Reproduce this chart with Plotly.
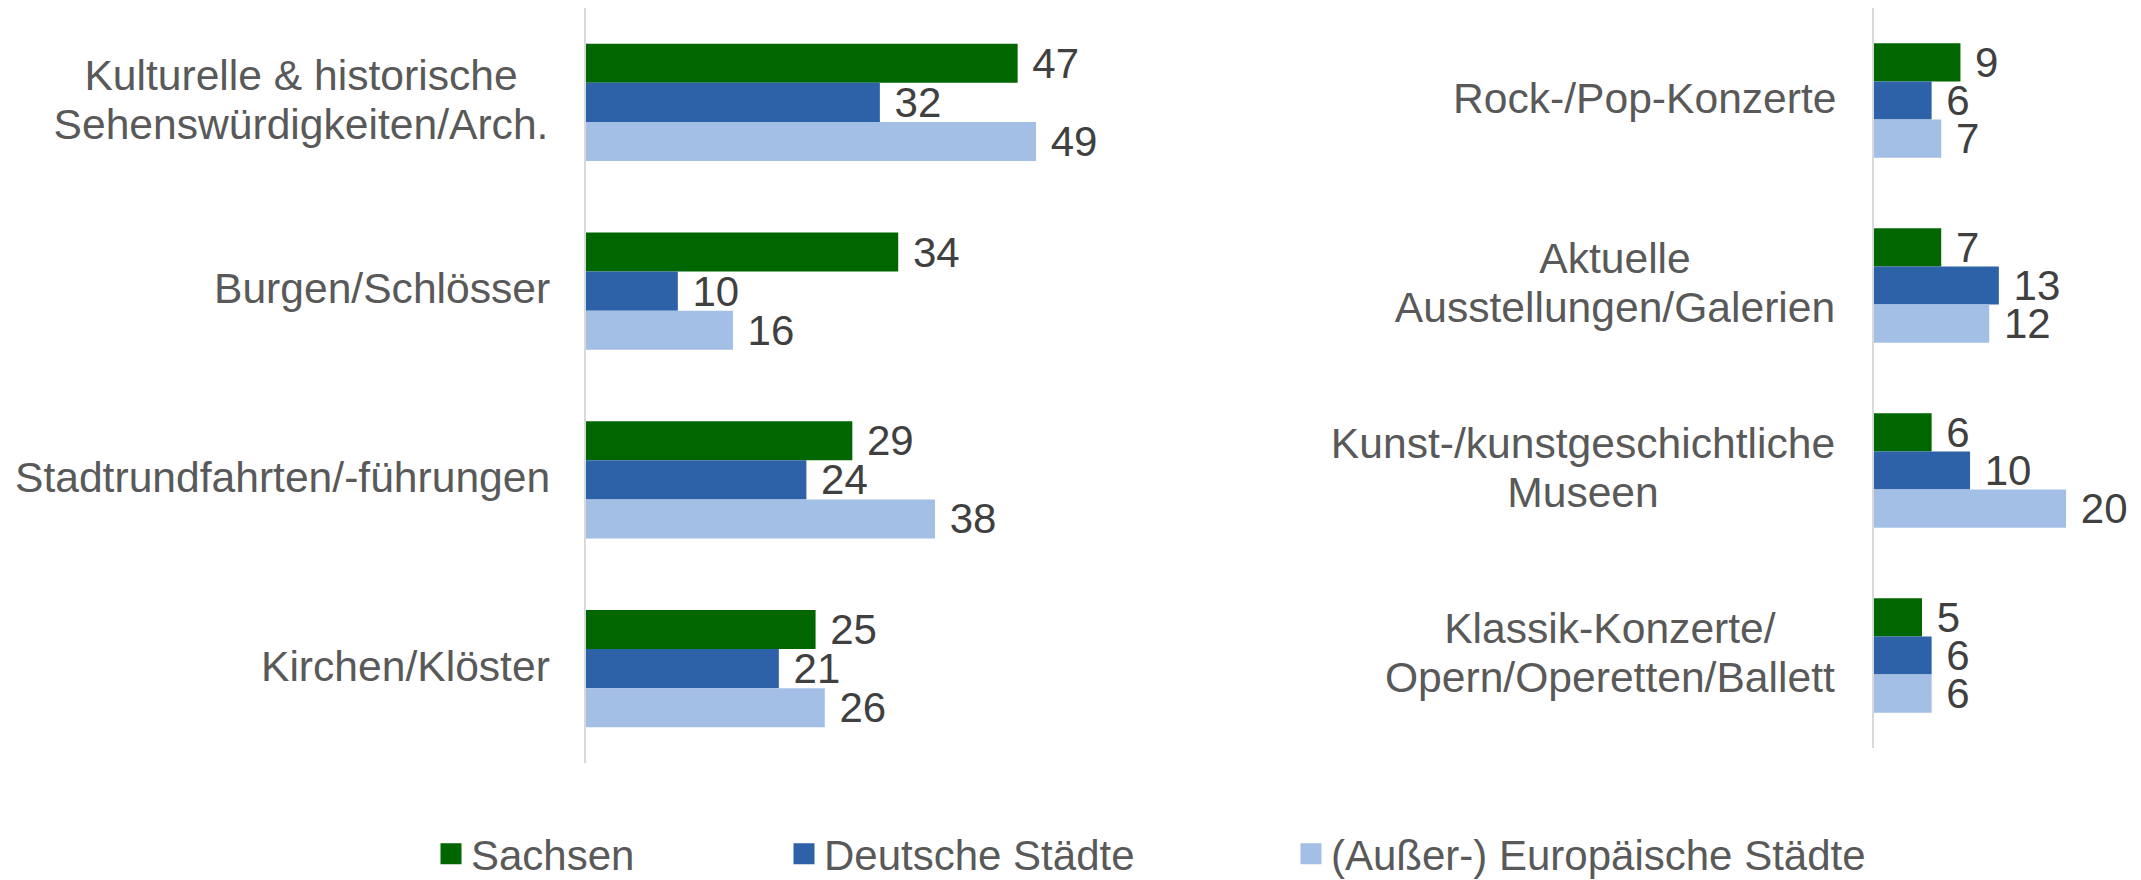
import plotly.graph_objects as go

# ---- data ----
left_categories = [
    "Kulturelle & historische<br>Sehenswürdigkeiten/Arch.",
    "Burgen/Schlösser",
    "Stadtrundfahrten/-führungen",
    "Kirchen/Klöster",
]
left_sachsen = [47, 34, 29, 25]
left_deutsche = [32, 10, 24, 21]
left_europa = [49, 16, 38, 26]

right_categories = [
    "Rock-/Pop-Konzerte",
    "Aktuelle<br>Ausstellungen/Galerien",
    "Kunst-/kunstgeschichtliche<br>Museen",
    "Klassik-Konzerte/<br>Opern/Operetten/Ballett",
]
right_sachsen = [9, 7, 6, 5]
right_deutsche = [6, 13, 10, 6]
right_europa = [7, 12, 20, 6]

series_names = ["Sachsen", "Deutsche Städte", "(Außer-) Europäische Städte"]
series_colors = ["#006600", "#2E62A8", "#A3BFE6"]

# ---- layout constants (page is offset 8px by the default body margin) ----
OFF = 8
W, H = 2141 - OFF, 880 - OFF
FONT = "Liberation Sans, Arial, sans-serif"
LABEL_COLOR = "#595959"
VALUE_COLOR = "#404040"
FS_VAL = 42
FS_CAT = 42.6
FS_LEG = 42
LINE_SP = 48.7  # px between lines of multi-line category labels
LABEL_LIFT = 3  # px
# text-box widths for the multi-line category labels (widest line)
label_box_w = {
    left_categories[0]: 498,
    right_categories[1]: 444,
    right_categories[2]: 508,
    right_categories[3]: 454,
}


def px_x(p):
    return (p - OFF) / W


def px_y(p):
    return 1 - (p - OFF) / H


fig = go.Figure()

left_vals = [left_sachsen, left_deutsche, left_europa]
right_vals = [right_sachsen, right_deutsche, right_europa]

for i, name in enumerate(series_names):
    for cats, vals, xa, ya in [
        (left_categories, left_vals[i], "x", "y"),
        (right_categories, right_vals[i], "x2", "y2"),
    ]:
        fig.add_trace(go.Bar(
            y=cats, x=vals, orientation="h",
            xaxis=xa, yaxis=ya,
            marker=dict(color=series_colors[i], line=dict(width=0)),
            texttemplate="\u00a0%{x}", textposition="outside",
            textfont=dict(family=FONT, size=FS_VAL, color=VALUE_COLOR),
            constraintext="none", cliponaxis=False,
            name=name, legendgroup=name, showlegend=False,
            hovertemplate="%{y}: %{x}<extra>" + name + "</extra>",
        ))

# legend entries (one legend per series, placed like the original)
legend_keys = ["legend", "legend2", "legend3"]
for i, name in enumerate(series_names):
    fig.add_trace(go.Scatter(
        x=[None], y=[None], mode="markers",
        marker=dict(symbol="square", size=16, color=series_colors[i],
                    line=dict(width=5, color=series_colors[i])),
        name=name, legendgroup=name, showlegend=True,
        legend=legend_keys[i], xaxis="x", yaxis="y",
    ))

# category labels: centered lines inside a right-aligned block
for cats, yref, xpage in [(left_categories, "y", 552), (right_categories, "y2", 1839)]:
    for c in cats:
        lines = c.split("<br>")
        n = len(lines)
        for k, line in enumerate(lines):
            kw = {}
            if n > 1:
                kw["width"] = label_box_w[c]
            fig.add_annotation(
                x=px_x(xpage), xref="paper", xanchor="right",
                y=c, yref=yref, yanchor="middle",
                yshift=((n - 1) / 2 - k) * LINE_SP + LABEL_LIFT,
                text=line, showarrow=False, align="center",
                font=dict(family=FONT, size=FS_CAT, color=LABEL_COLOR),
                **kw,
            )

axis_common_x = dict(showticklabels=False, showgrid=False, zeroline=False,
                     showline=False, ticks="", fixedrange=True)
axis_common_y = dict(type="category", autorange="reversed", showticklabels=False,
                     showgrid=False, zeroline=False, ticks="",
                     showline=True, linecolor="#D9D9D9", linewidth=2)

legend_common = dict(orientation="h", yanchor="middle", y=px_y(854),
                     xanchor="left", font=dict(family=FONT, size=FS_LEG, color=LABEL_COLOR),
                     bgcolor="rgba(0,0,0,0)", borderwidth=0, itemclick=False,
                     itemdoubleclick=False)
text_starts = [471, 824, 1331]

fig.update_layout(
    width=W, height=H,
    margin=dict(l=0, r=0, t=0, b=0, autoexpand=False),
    paper_bgcolor="white", plot_bgcolor="white",
    barmode="group", bargap=0.38, bargroupgap=0,
    xaxis=dict(domain=[px_x(586), px_x(1137)], range=[0, 60], anchor="y", **axis_common_x),
    yaxis=dict(domain=[px_y(763), 1.0], anchor="x", **axis_common_y),
    xaxis2=dict(domain=[px_x(1874), 1.0], range=[0, 27.8], anchor="y2", **axis_common_x),
    yaxis2=dict(domain=[px_y(748), 1.0], anchor="x2", **axis_common_y),
    legend=dict(x=px_x(text_starts[0] - 40), **legend_common),
    legend2=dict(x=px_x(text_starts[1] - 40), **legend_common),
    legend3=dict(x=px_x(text_starts[2] - 40), **legend_common),
    font=dict(family=FONT, color=LABEL_COLOR),
)

fig.write_html("out.html")
